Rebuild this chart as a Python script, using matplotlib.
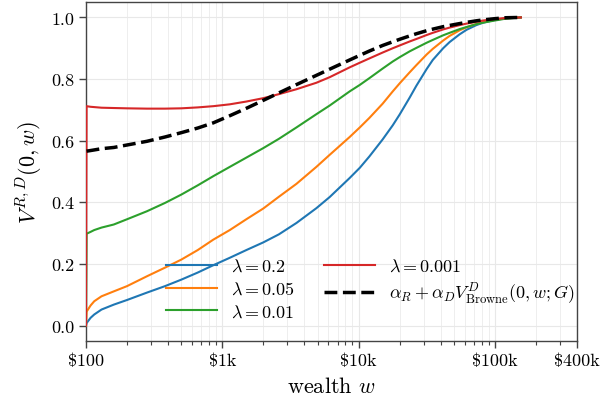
import numpy as np
import matplotlib
matplotlib.use("Agg")
import matplotlib.pyplot as plt
from matplotlib.ticker import FixedLocator, LogLocator, NullFormatter

plt.rcParams['font.family'] = 'serif'
plt.rcParams['font.serif'] = ['cmr10', 'DejaVu Serif']
plt.rcParams['mathtext.fontset'] = 'cm'
plt.rcParams['axes.unicode_minus'] = False
plt.rcParams['axes.formatter.use_mathtext'] = True

# wealth grid (x values)
wealth = [100, 101, 108, 115, 130, 160, 200, 280, 380, 500, 660, 860, 1135, 1500,
          2000, 2600, 3500, 4900, 6130, 8600, 10200, 12000, 15000, 17800, 20000,
          23700, 26500, 31600, 35000, 41700, 46500, 55000, 62000, 73000, 82000,
          100000, 120000, 155000]

v_lam_02 = [0.0, 0.008, 0.025, 0.036, 0.052, 0.068, 0.083, 0.107, 0.128, 0.149,
            0.172, 0.196, 0.220, 0.245, 0.270, 0.296, 0.333, 0.381, 0.417, 0.479,
            0.512, 0.549, 0.604, 0.650, 0.685, 0.740, 0.778, 0.833, 0.862, 0.900,
            0.920, 0.945, 0.960, 0.975, 0.983, 0.992, 0.997, 1.0]
v_lam_005 = [0.0, 0.045, 0.065, 0.079, 0.095, 0.111, 0.128, 0.160, 0.188, 0.214,
             0.245, 0.279, 0.310, 0.345, 0.380, 0.418, 0.460, 0.515, 0.554, 0.612,
             0.643, 0.674, 0.720, 0.760, 0.786, 0.822, 0.845, 0.880, 0.898, 0.925,
             0.940, 0.958, 0.968, 0.979, 0.985, 0.993, 0.997, 1.0]
v_lam_001 = [0.0, 0.298, 0.304, 0.310, 0.318, 0.328, 0.345, 0.371, 0.398, 0.425,
             0.455, 0.485, 0.515, 0.545, 0.576, 0.606, 0.643, 0.686, 0.714, 0.760,
             0.781, 0.803, 0.834, 0.857, 0.871, 0.890, 0.901, 0.918, 0.927, 0.942,
             0.950, 0.962, 0.969, 0.978, 0.983, 0.990, 0.996, 1.0]
v_lam_0001 = [0.0, 0.712, 0.710, 0.709, 0.707, 0.706, 0.705, 0.704, 0.704, 0.705,
              0.708, 0.712, 0.718, 0.727, 0.738, 0.751, 0.767, 0.788, 0.806, 0.838,
              0.853, 0.867, 0.886, 0.900, 0.909, 0.922, 0.930, 0.943, 0.950, 0.961,
              0.967, 0.975, 0.980, 0.986, 0.990, 0.995, 0.998, 1.0]
browne_wealth = wealth[1:]
v_browne = [0.566, 0.568, 0.570, 0.574, 0.578, 0.586, 0.598, 0.612, 0.626, 0.641,
            0.658, 0.681, 0.705, 0.731, 0.755, 0.782, 0.812, 0.832, 0.862, 0.877,
            0.891, 0.909, 0.921, 0.929, 0.940, 0.947, 0.957, 0.962, 0.970, 0.974,
            0.980, 0.984, 0.989, 0.992, 0.996, 0.999, 1.0]

labels = [r'$\lambda = 0.2$', r'$\lambda = 0.05$', r'$\lambda = 0.01$', r'$\lambda = 0.001$']
colors = ['#1f77b4', '#ff7f0e', '#2ca02c', '#d62728']
series = [v_lam_02, v_lam_005, v_lam_001, v_lam_0001]

xticks = [100, 1000, 10000, 100000, 400000]
xticklabels = [r'\$100', r'\$1k', r'\$10k', r'\$100k', r'\$400k']
yticks = [0.0, 0.2, 0.4, 0.6, 0.8, 1.0]

fig = plt.figure(figsize=(6.0, 4.02), dpi=100)
ax = fig.add_axes([0.1433, 0.1493, 0.8184, 0.8432])

for vals, lab, col in zip(series, labels, colors):
    ax.plot(wealth, vals, color=col, lw=1.5, label=lab, zorder=3)
ax.plot(browne_wealth, v_browne, color='black', lw=2.5, ls='--',
        label=r'$\alpha_R + \alpha_D V^D_{\mathrm{Browne}}(0, w; G)$', zorder=4)

ax.set_xscale('log')
ax.set_xlim(100, 400000)
ax.set_ylim(-0.05, 1.05)
ax.xaxis.set_major_locator(FixedLocator(xticks))
ax.set_xticks(xticks)
ax.set_xticklabels(xticklabels)
ax.xaxis.set_minor_locator(LogLocator(base=10, subs=np.arange(2, 10), numticks=20))
ax.xaxis.set_minor_formatter(NullFormatter())
ax.set_yticks(yticks)
ax.set_yticklabels([f'{v:.1f}' for v in yticks])

ax.grid(True, which='major', color='#e8e8e8', lw=0.8, zorder=0)
ax.grid(True, which='minor', axis='x', color='#eeeeee', lw=0.7, zorder=0)
ax.set_axisbelow(True)

for sp in ax.spines.values():
    sp.set_color('#444444')
    sp.set_linewidth(1.0)
ax.tick_params(axis='both', which='major', direction='out', length=5, width=1.0,
               color='#444444', labelsize=13, labelcolor='black')
ax.tick_params(axis='x', which='minor', direction='out', length=3, width=0.8, color='#444444')

ax.set_xlabel(r'wealth $w$', fontsize=16, labelpad=6)
ax.set_ylabel(r'$V^{R,D}(0, w)$', fontsize=16, labelpad=4)

ax.legend(loc='lower left', bbox_to_anchor=(0.13, 0.015), ncol=2, frameon=False,
          fontsize=13, handlelength=2.8, columnspacing=1.6, handletextpad=0.8,
          labelspacing=0.35)

fig.savefig('out.png', dpi=100)
